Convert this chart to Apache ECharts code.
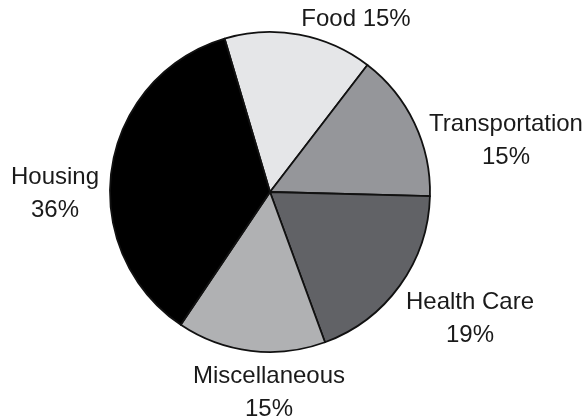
<!DOCTYPE html>
<html>
<head>
<meta charset="utf-8">
<script src="https://cdn.jsdelivr.net/npm/echarts@6/dist/echarts.min.js"></script>
<style>
html,body{margin:0;padding:0;background:#fff;}
#chart{width:588px;height:417px;}
</style>
</head>
<body>
<div id="chart"></div>
<script>
// Data
var categories = ['Food', 'Transportation', 'Health Care', 'Miscellaneous', 'Housing'];
var values = [15, 15, 19, 15, 36];
var sliceColors = ['#e5e6e8', '#95969a', '#616266', '#b0b1b3', '#000000'];
// Label formatting: whether name and percent share one line
var singleLine = [true, false, false, false, false];
// Label placement offsets relative to pie centre (style only)
var labelOffsets = [[86, -173], [236, -51], [200, 127], [-1, 201], [-215, 2]];

var pieCenter = [270, 192];

var chart = echarts.init(document.getElementById('chart'), null, {renderer: 'canvas'});
var data = categories.map(function (c, i) {
  return {name: c, value: values[i], itemStyle: {color: sliceColors[i]}};
});
chart.setOption({
  animation: false,
  backgroundColor: '#ffffff',
  series: [{
    type: 'pie',
    center: pieCenter,
    radius: 160,
    startAngle: 106.5,
    clockwise: true,
    avoidLabelOverlap: false,
    data: data,
    itemStyle: {borderColor: '#111', borderWidth: 1.8},
    emphasis: {disabled: true},
    label: {
      show: true,
      position: 'outside',
      formatter: function (p) {
        return p.name + (singleLine[p.dataIndex] ? ' ' : '\n') + Math.round(p.percent) + '%';
      },
      fontFamily: 'Liberation Sans',
      fontSize: 24,
      lineHeight: 33,
      color: '#1a1a1a',
      align: 'center'
    },
    labelLine: {show: false},
    labelLayout: function (p) {
      var o = labelOffsets[p.dataIndex];
      return {
        x: pieCenter[0] + o[0],
        y: pieCenter[1] + o[1],
        align: 'center',
        verticalAlign: 'middle'
      };
    }
  }]
});
</script>
</body>
</html>
